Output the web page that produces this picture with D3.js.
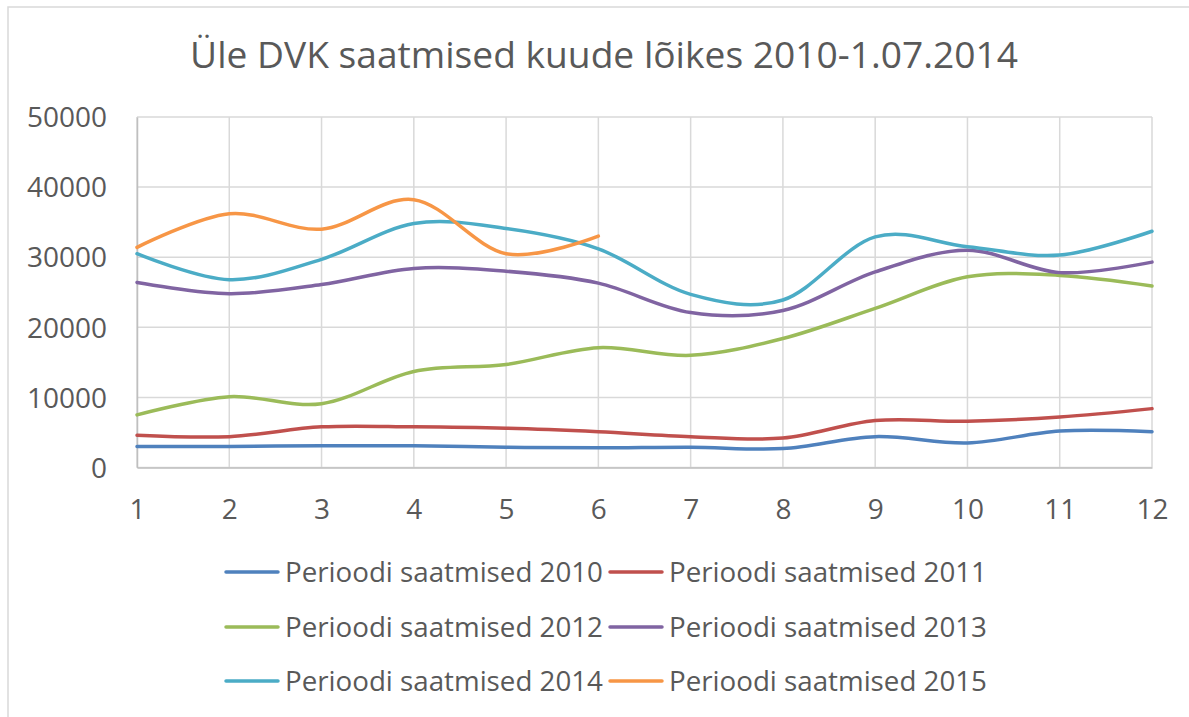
<!DOCTYPE html>
<html><head><meta charset="utf-8">
<script src="https://cdn.jsdelivr.net/npm/d3@7"></script>
<style>html,body{margin:0;padding:0;background:#fff;}svg{display:block;}</style>
</head><body>
<svg id="c" width="1189" height="717"></svg>
<script>
const title = "Üle DVK saatmised kuude lõikes 2010-1.07.2014";
const months = [1,2,3,4,5,6,7,8,9,10,11,12];
const yTicks = [0,10000,20000,30000,40000,50000];
const seriesNames = ["Perioodi saatmised 2010","Perioodi saatmised 2011","Perioodi saatmised 2012","Perioodi saatmised 2013","Perioodi saatmised 2014","Perioodi saatmised 2015"];
const colors = ["#4F81BD","#C0504D","#9BBB59","#8064A2","#4BACC6","#F79646"];
const s2010 = [3000,3000,3100,3100,2900,2800,2900,2700,4400,3500,5200,5100];
const s2011 = [4600,4400,5800,5800,5600,5100,4400,4200,6700,6600,7200,8400];
const s2012 = [7500,10100,9100,13700,14700,17100,16000,18400,22700,27200,27400,25900];
const s2013 = [26400,24800,26100,28400,28000,26300,22100,22400,27900,31000,27800,29300];
const s2014 = [30500,26800,29700,34800,34100,31200,24700,23900,32900,31500,30300,33700];
const s2015 = [31400,36200,34000,38200,30500,33000];
const allSeries = [s2010,s2011,s2012,s2013,s2014,s2015];

const svg = d3.select("#c");
const txt = "#595959";
const font = "'Open Sans', sans-serif";

// chart border (top/left visible, rest cropped)
svg.append("rect").attr("x",8).attr("y",7).attr("width",1200).attr("height",720)
  .attr("fill","none").attr("stroke","#d9d9d9").attr("stroke-width",1.5);

const x = d3.scaleLinear().domain([1,12]).range([137,1152]);
const y = d3.scaleLinear().domain([0,50000]).range([467.5,117]);

function fit(sel, target){
  let fs = parseFloat(sel.attr("font-size"));
  const w = sel.node().getComputedTextLength();
  sel.attr("font-size", fs*target/w);
}

// title
const t = svg.append("text").attr("x",604).attr("y",68).attr("text-anchor","middle")
  .attr("font-family",font).attr("font-size",34).attr("fill",txt).text(title);
fit(t, 828);

// grid
const g = svg.append("g");
g.selectAll(".hg").data(yTicks).join("line")
  .attr("x1",x(1)).attr("x2",x(12)).attr("y1",d=>y(d)).attr("y2",d=>y(d))
  .attr("stroke","#d9d9d9").attr("stroke-width",1.5);
g.selectAll(".vg").data(months).join("line")
  .attr("x1",d=>x(d)).attr("x2",d=>x(d)).attr("y1",y(0)).attr("y2",y(50000))
  .attr("stroke","#d9d9d9").attr("stroke-width",1.5);

// axes via d3 axis
const yAxis = svg.append("g").attr("transform",`translate(${x(1)},0)`)
  .call(d3.axisLeft(y).tickValues(yTicks).tickFormat(d3.format("d")).tickSize(0).tickPadding(30));
yAxis.select(".domain").attr("stroke","#bfbfbf").attr("stroke-width",1.5);
yAxis.selectAll("text").attr("font-family",font).attr("font-size",28).attr("fill",txt).attr("dy","0.35em");
const xAxis = svg.append("g").attr("transform",`translate(0,${y(0)})`)
  .call(d3.axisBottom(x).tickValues(months).tickFormat(d3.format("d")).tickSize(0).tickPadding(32));
xAxis.select(".domain").attr("stroke","#bfbfbf").attr("stroke-width",1.5);
xAxis.selectAll("text").attr("font-family",font).attr("font-size",28).attr("fill",txt).attr("dy","0.71em");
// fit tick font to match
const lab = yAxis.selectAll("text").filter(d=>d===50000);
const w0 = lab.node().getComputedTextLength();
const tfs = 28*80/w0;
yAxis.selectAll("text").attr("font-size",tfs);
xAxis.selectAll("text").attr("font-size",tfs);

// lines
const line = d3.line().x((d,i)=>x(months[i])).y(d=>y(d)).curve(d3.curveCatmullRom.alpha(0));
svg.append("g").selectAll("path").data(allSeries).join("path")
  .attr("d",d=>line(d)).attr("fill","none")
  .attr("stroke",(d,i)=>colors[i]).attr("stroke-width",3.5).attr("stroke-linecap","round");

// legend
const legX = [226, 610];
const legY = [572, 627, 681];
const leg = svg.append("g").selectAll("g").data(seriesNames).join("g")
  .attr("transform",(d,i)=>`translate(${legX[i%2]},${legY[Math.floor(i/2)]})`);
leg.append("line").attr("x1",0).attr("x2",52).attr("y1",0).attr("y2",0)
  .attr("stroke",(d,i)=>colors[i]).attr("stroke-width",3.5).attr("stroke-linecap","round");
const lt = leg.append("text").attr("x",59).attr("y",9.5).attr("font-family",font)
  .attr("font-size",26).attr("fill",txt).text(d=>d);
const lw = lt.filter((d,i)=>i===0).node().getComputedTextLength();
lt.attr("font-size",26*318/lw);
</script>
</body></html>
